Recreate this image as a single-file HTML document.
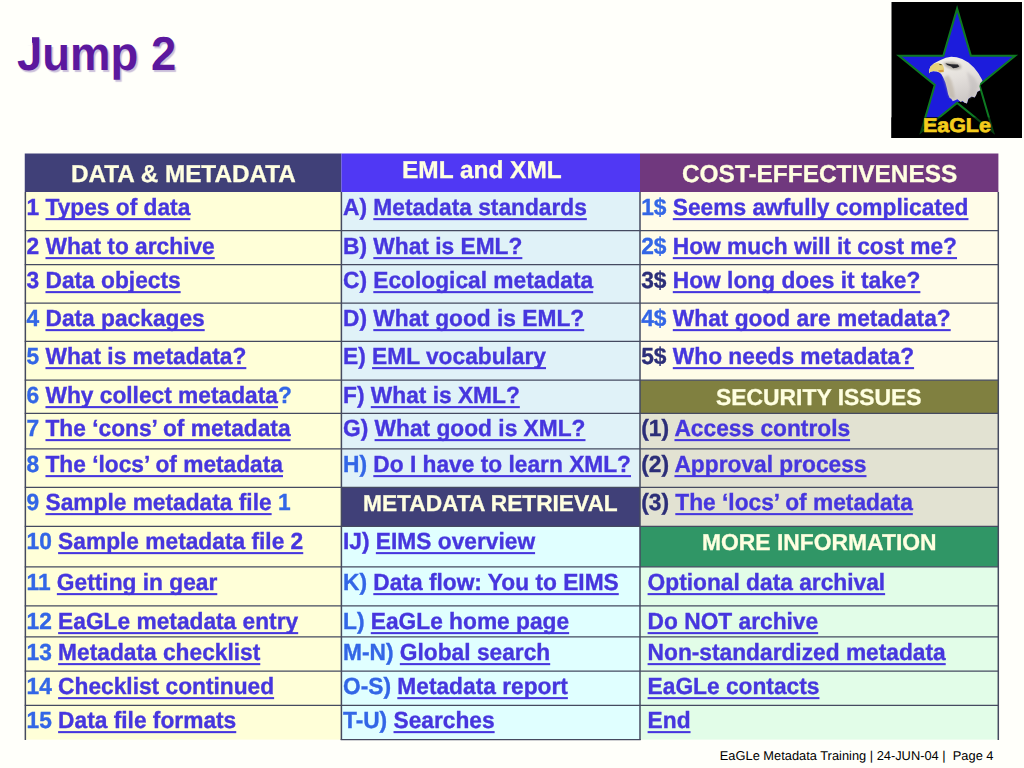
<!DOCTYPE html>
<html><head><meta charset="utf-8"><title>Jump 2</title>
<style>
html,body{margin:0;padding:0;text-rendering:geometricPrecision;}
body{width:1024px;height:768px;background:#fffffa;position:relative;overflow:hidden;font-family:"Liberation Sans",sans-serif;}
.bg{position:absolute;}
.t{position:absolute;white-space:nowrap;font-weight:bold;font-size:22.74px;line-height:24px;color:#4636de;transform:scaleY(1.03);transform-origin:0 19.9px;text-rendering:geometricPrecision;-webkit-text-stroke:0.35px;}
.t u{text-decoration:underline;text-decoration-thickness:2.3px;text-underline-offset:3.2px;text-decoration-skip-ink:none;color:#4636de;}
.t .b{color:#3366e6;} .t .n{color:#2c2e78;}
.h{position:absolute;white-space:nowrap;font-weight:bold;font-size:22.74px;line-height:24px;color:#ffffe0;text-align:center;-webkit-text-stroke:0.3px;}
.ln{position:absolute;background:#50546c;}
.title{position:absolute;left:17px;top:29.4px;font-weight:bold;font-size:45.5px;line-height:52px;color:#5c189e;text-shadow:1.6px 1.6px 1px #cabfda;transform:translateY(0.45px) scaleY(1.045);transform-origin:0 40.8px;}
.foot{position:absolute;right:30.5px;top:749px;font-size:12.85px;line-height:14px;color:#000;white-space:pre;}
</style></head><body>
<svg class="bg" style="left:0;top:0" width="1024" height="768" viewBox="0 0 1024 768">
<rect x="24.75" y="153.5" width="316.65" height="38.5" fill="#404078"/>
<rect x="341.4" y="153.5" width="298.6" height="38.5" fill="#5038f4"/>
<rect x="640" y="153.5" width="358.4" height="38.5" fill="#70387e"/>
<rect x="24.75" y="192" width="316.65" height="547.6" fill="#ffffd8"/>
<rect x="341.4" y="192" width="298.6" height="295.3" fill="#e0f2f8"/>
<rect x="341.4" y="487.3" width="298.6" height="39.1" fill="#404078"/>
<rect x="341.4" y="526.4" width="298.6" height="213.2" fill="#e0ffff"/>
<rect x="640" y="192" width="358.4" height="188.2" fill="#fffce8"/>
<rect x="640" y="380.2" width="358.4" height="33.1" fill="#808040"/>
<rect x="640" y="413.3" width="358.4" height="113.1" fill="#e2e2d2"/>
<rect x="640" y="526.4" width="358.4" height="40.5" fill="#309666"/>
<rect x="640" y="566.9" width="358.4" height="172.7" fill="#e2fde8"/>
<line x1="24.75" y1="230.6" x2="998.9" y2="230.6" stroke="#454a60" stroke-width="1.25"/>
<line x1="24.75" y1="264.5" x2="998.9" y2="264.5" stroke="#454a60" stroke-width="1.25"/>
<line x1="24.75" y1="303.1" x2="998.9" y2="303.1" stroke="#454a60" stroke-width="1.25"/>
<line x1="24.75" y1="341.4" x2="998.9" y2="341.4" stroke="#454a60" stroke-width="1.25"/>
<line x1="24.75" y1="380.2" x2="998.9" y2="380.2" stroke="#454a60" stroke-width="1.25"/>
<line x1="24.75" y1="413.3" x2="998.9" y2="413.3" stroke="#454a60" stroke-width="1.25"/>
<line x1="24.75" y1="448.9" x2="998.9" y2="448.9" stroke="#454a60" stroke-width="1.25"/>
<line x1="24.75" y1="487.3" x2="998.9" y2="487.3" stroke="#454a60" stroke-width="1.25"/>
<line x1="24.75" y1="526.4" x2="998.9" y2="526.4" stroke="#454a60" stroke-width="1.25"/>
<line x1="24.75" y1="566.9" x2="998.9" y2="566.9" stroke="#454a60" stroke-width="1.25"/>
<line x1="24.75" y1="605.8" x2="998.9" y2="605.8" stroke="#454a60" stroke-width="1.25"/>
<line x1="24.75" y1="636.9" x2="998.9" y2="636.9" stroke="#454a60" stroke-width="1.25"/>
<line x1="24.75" y1="671.1" x2="998.9" y2="671.1" stroke="#454a60" stroke-width="1.25"/>
<line x1="24.75" y1="705.4" x2="998.9" y2="705.4" stroke="#454a60" stroke-width="1.25"/>
<line x1="340.7" y1="739.6" x2="640.7" y2="739.6" stroke="#454a60" stroke-width="1.3"/>
<line x1="25.35" y1="192" x2="25.35" y2="740" stroke="#454a60" stroke-width="1.5"/>
<line x1="341.4" y1="192" x2="341.4" y2="740" stroke="#454a60" stroke-width="1.5"/>
<line x1="640" y1="192" x2="640" y2="740" stroke="#454a60" stroke-width="1.5"/>
<line x1="998.3" y1="192" x2="998.3" y2="740" stroke="#454a60" stroke-width="1.5"/>
</svg>
<div class="h" style="left:70.8px;top:163px;font-size:24.5px;text-align:left;transform:scaleX(0.991);transform-origin:0 0">DATA &amp; METADATA</div>
<div class="h" style="left:402.2px;top:159px;font-size:24.5px;text-align:left;transform:scaleX(0.997);transform-origin:0 0">EML and XML</div>
<div class="h" style="left:682px;top:163px;font-size:24.5px;text-align:left;transform:scaleX(0.996);transform-origin:0 0">COST-EFFECTIVENESS</div>
<div class="h" style="left:362.5px;top:491px;font-size:23px;text-align:left;transform:scaleX(0.987);transform-origin:0 0">METADATA RETRIEVAL</div>
<div class="h" style="left:716.2px;top:385px;font-size:23px;text-align:left;transform:scaleX(0.995);transform-origin:0 0">SECURITY ISSUES</div>
<div class="h" style="left:702.3px;top:530px;font-size:23px;text-align:left;transform:scaleX(0.994);transform-origin:0 0">MORE INFORMATION</div>
<div class="t" style="left:26.5px;top:195px">1 <u>Types of data</u></div>
<div class="t" style="left:26.5px;top:234px">2 <u>What to archive</u></div>
<div class="t" style="left:26.5px;top:268px">3 <u>Data objects</u></div>
<div class="t" style="left:26.5px;top:306px"><span class="b">4 </span><u>Data packages</u></div>
<div class="t" style="left:26.5px;top:344px"><span class="b">5 </span><u>What is metadata?</u></div>
<div class="t" style="left:26.5px;top:383px"><span class="b">6 </span><u>Why collect metadata</u><span class="b">?</span></div>
<div class="t" style="left:26.5px;top:416px"><span class="b">7 </span><u>The ‘cons’ of metadata</u></div>
<div class="t" style="left:26.5px;top:452px"><span class="b">8 </span><u>The ‘locs’ of metadata</u></div>
<div class="t" style="left:26.5px;top:490px"><span class="b">9 </span><u>Sample metadata file</u><span class="b"> 1</span></div>
<div class="t" style="left:26.5px;top:529px"><span class="b">10 </span><u>Sample metadata file 2</u></div>
<div class="t" style="left:26.5px;top:570px"><span class="b">11 </span><u>Getting in gear</u></div>
<div class="t" style="left:26.5px;top:609px"><span class="b">12 </span><u>EaGLe metadata entry</u></div>
<div class="t" style="left:26.5px;top:640px"><span class="b">13 </span><u>Metadata checklist</u></div>
<div class="t" style="left:26.5px;top:674px"><span class="b">14 </span><u>Checklist continued</u></div>
<div class="t" style="left:26.5px;top:708px"><span class="b">15 </span><u>Data file formats</u></div>
<div class="t" style="left:343px;top:195px">A) <u>Metadata standards</u></div>
<div class="t" style="left:343px;top:234px">B) <u>What is EML?</u></div>
<div class="t" style="left:343px;top:268px">C) <u>Ecological metadata</u></div>
<div class="t" style="left:343px;top:306px">D) <u>What good is EML?</u></div>
<div class="t" style="left:343px;top:344px">E) <u>EML vocabulary</u></div>
<div class="t" style="left:343px;top:383px">F) <u>What is XML?</u></div>
<div class="t" style="left:343px;top:416px">G) <u>What good is XML?</u></div>
<div class="t" style="left:343px;top:452px"><span class="b">H) </span><u>Do I have to learn XML?</u></div>
<div class="t" style="left:343px;top:529px">IJ) <u>EIMS overview</u></div>
<div class="t" style="left:343px;top:570px"><span class="b">K) </span><u>Data flow: You to EIMS</u></div>
<div class="t" style="left:343px;top:609px"><span class="b">L) </span><u>EaGLe home page</u></div>
<div class="t" style="left:343px;top:640px"><span class="b">M-N) </span><u>Global search</u></div>
<div class="t" style="left:343px;top:674px"><span class="b">O-S) </span><u>Metadata report</u></div>
<div class="t" style="left:343px;top:708px"><span class="b">T-U) </span><u>Searches</u></div>
<div class="t" style="left:641.2px;top:195px"><span class="b">1$ </span><u>Seems awfully complicated</u></div>
<div class="t" style="left:641.2px;top:234px"><span class="b">2$ </span><u>How much will it cost me?</u></div>
<div class="t" style="left:641.2px;top:268px"><span class="n">3$ </span><u>How long does it take?</u></div>
<div class="t" style="left:641.2px;top:306px"><span class="b">4$ </span><u>What good are metadata?</u></div>
<div class="t" style="left:641.2px;top:344px"><span class="n">5$ </span><u>Who needs metadata?</u></div>
<div class="t" style="left:641.2px;top:416px"><span class="n">(1) </span><u>Access controls</u></div>
<div class="t" style="left:641.2px;top:452px"><span class="n">(2) </span><u>Approval process</u></div>
<div class="t" style="left:641.2px;top:490px"><span class="n">(3) </span><u>The ‘locs’ of metadata</u></div>
<div class="t" style="left:647.6px;top:570px"><u>Optional data archival</u></div>
<div class="t" style="left:647.6px;top:609px"><u>Do NOT archive</u></div>
<div class="t" style="left:647.6px;top:640px"><u>Non-standardized metadata</u></div>
<div class="t" style="left:647.6px;top:674px"><u>EaGLe contacts</u></div>
<div class="t" style="left:647.6px;top:708px"><u>End</u></div>
<div class="title">Jump 2</div>
<div class="bg" style="left:23px;top:34px;width:9.4px;height:11.2px;background:#fffffa"></div>
<div class="foot">EaGLe Metadata Training | 24-JUN-04 |  Page 4</div>
<svg class="bg" style="left:0;top:0" width="1024" height="160" viewBox="0 0 1024 160">
<defs><linearGradient id="hg" x1="0" y1="0" x2="0.3" y2="1"><stop offset="0" stop-color="#f6f4ec"/><stop offset="0.55" stop-color="#e4e0dc"/><stop offset="1" stop-color="#cfcac8"/></linearGradient><filter id="sb" x="-10%" y="-10%" width="120%" height="120%"><feGaussianBlur stdDeviation="0.35"/></filter><filter id="bb" x="-30%" y="-30%" width="160%" height="160%"><feGaussianBlur stdDeviation="1.2"/></filter></defs>
<rect x="891.5" y="2" width="130.5" height="136" fill="#000"/>
<polygon points="957.1,8.6 970.9,55.7 1015.3,55.7 979.4,84.9 993.1,132.0 957.1,102.9 921.1,132.0 934.8,84.9 898.9,55.7 943.3,55.7" fill="#1c1cdc"/>
<polygon points="966.9,103.6 968.4,98.8 971.6,96.4 974.7,97.6 977.4,91.8 980.3,90.2 982.5,85.5 1005.9,85.5 1005.9,137.8 963.8,137.8 956.7,102.7 960.6,101.1" fill="#000"/>
<rect x="891.5" y="117.4" width="130.5" height="20.6" fill="#000"/>
<polygon points="957.1,8.6 970.9,55.7 1015.3,55.7 979.4,84.9 993.1,132.0 957.1,102.9 921.1,132.0 934.8,84.9 898.9,55.7 943.3,55.7" fill="none" stroke="#0e7a22" stroke-width="2" stroke-linejoin="miter"/>
<rect x="891.5" y="117.4" width="130.5" height="20.6" fill="#000" opacity="0.45"/>
<g filter="url(#sb)">
<polygon points="929.0,73.0 929.2,69.9 930.5,66.4 934.1,63.2 939.5,60.5 945.8,57.8 951.2,56.8 956.7,57.2 962.2,58.9 968.4,62.5 973.9,67.5 978.2,73.0 981.7,78.9 982.5,80.8 980.2,83.2 979.4,86.3 980.3,90.2 977.4,91.8 976.2,94.9 974.7,97.6 971.6,96.4 968.4,98.8 966.9,103.6 964.5,102.7 962.6,101.1 960.6,101.9 957.5,99.2 955.2,100.3 952.8,101.3 951.2,98.8 949.7,98.0 948.1,94.1 947.0,88.6 945.4,82.4 943.4,78.1 941.5,74.6 939.5,72.4 936.8,71.4 933.3,71.3 930.5,71.8" fill="url(#hg)"/>
<polygon points="943.4,77.7 946.6,88.6 949.3,97.2 955.2,98.8 953.6,88.6 951.6,80.8 948.1,75.0" fill="#b8ad9c" opacity="0.55" filter="url(#bb)"/>
<polygon points="966.9,71.4 974.7,77.7 978.2,85.5 974.7,94.9 968.4,98.8 970.0,87.1 968.4,79.2" fill="#bdb8b8" opacity="0.5" filter="url(#bb)"/>
<polygon points="929.0,73.4 929.2,69.9 930.5,66.4 934.1,63.6 938.8,62.8 942.7,64.8 944.2,69.1 943.4,72.2 939.5,72.4 936.8,71.3 933.3,71.0 930.5,71.7" fill="#e6d27a"/>
<polygon points="938.0,70.3 943.4,69.7 943.8,71.8 939.9,72.2" fill="#d89a3a"/>
<polygon points="943.4,62.8 952.8,62.1 960.6,64.8 961.4,68.3 956.7,69.5 951.2,69.1 945.8,66.4" fill="#8a8478" opacity="0.6" filter="url(#bb)"/>
<polygon points="945.4,63.2 951.2,64.2 957.9,64.4 959.3,66.4 956.7,67.7 953.2,68.3 951.1,66.6 947.2,64.9" fill="#25252c"/>
<polygon points="939.1,64.0 941.5,64.0 941.7,65.2 939.5,65.0" fill="#55502a"/>
</g>
<text x="956.9" y="132.35" text-rendering="geometricPrecision" text-anchor="middle" textLength="68" lengthAdjust="spacingAndGlyphs" font-family="Liberation Sans, sans-serif" font-weight="bold" font-size="20" fill="#f4cc1c" stroke="#f4cc1c" stroke-width="0.7">EaGLe</text>
</svg>
</body></html>
